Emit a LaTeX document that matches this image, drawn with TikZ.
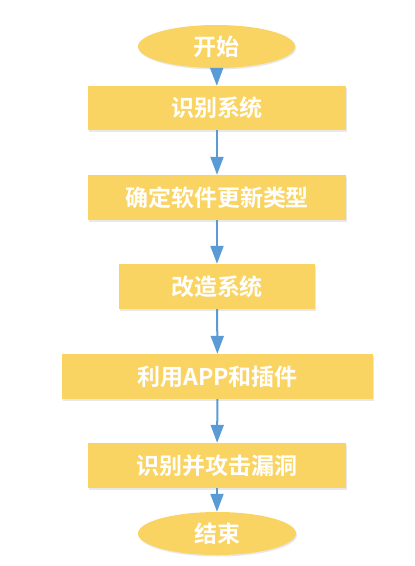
\documentclass[tikz,border=0pt]{standalone}
\usepackage{fontspec}
\newfontfamily\cjkbold{Noto Sans CJK SC Bold}
\usetikzlibrary{arrows.meta,shapes.geometric,shadows}
\definecolor{boxyellow}{HTML}{FAD463}
\definecolor{arrowblue}{HTML}{5B9BD5}
\begin{document}
\begin{tikzpicture}[x=1pt,y=-1pt,
  every node/.style={font=\cjkbold\fontsize{23}{26}\selectfont, text=white, inner sep=0pt},
  procbox/.style={rectangle, fill=boxyellow, draw=none, drop shadow={shadow xshift=1pt, shadow yshift=-1.5pt, opacity=0.15, fill=black!60}},
  termin/.style={ellipse, fill=boxyellow, draw=none, drop shadow={shadow xshift=1pt, shadow yshift=-1.5pt, opacity=0.15, fill=black!60}},
  flow/.style={draw=arrowblue, line width=2pt, -{Triangle[width=13pt,length=18pt]}}]
\useasboundingbox (0,0) rectangle (415,566);
\node[termin, minimum width=157pt, minimum height=43pt] (start) at (216.5,46.5) {开始};
\node[procbox, minimum width=258pt, minimum height=44pt] (b1) at (217,108) {识别系统};
\node[procbox, minimum width=258pt, minimum height=45pt] (b2) at (217,197.5) {确定软件更新类型};
\node[procbox, minimum width=196pt, minimum height=45pt] (b3) at (217,286.5) {改造系统};
\node[procbox, minimum width=311pt, minimum height=45pt] (b4) at (217.5,376.5) {利用APP和插件};
\node[procbox, minimum width=258pt, minimum height=45pt] (b5) at (217,465.5) {识别并攻击漏洞};
\node[termin, minimum width=158pt, minimum height=43pt] (end) at (217,533.5) {结束};
\draw[flow] (start) -- (b1);
\draw[flow] (b1) -- (b2);
\draw[flow] (b2) -- (b3);
\draw[flow] (b3) -- (b4);
\draw[flow] (b4) -- (b5);
\draw[flow] (b5) -- (end);
\end{tikzpicture}
\end{document}
